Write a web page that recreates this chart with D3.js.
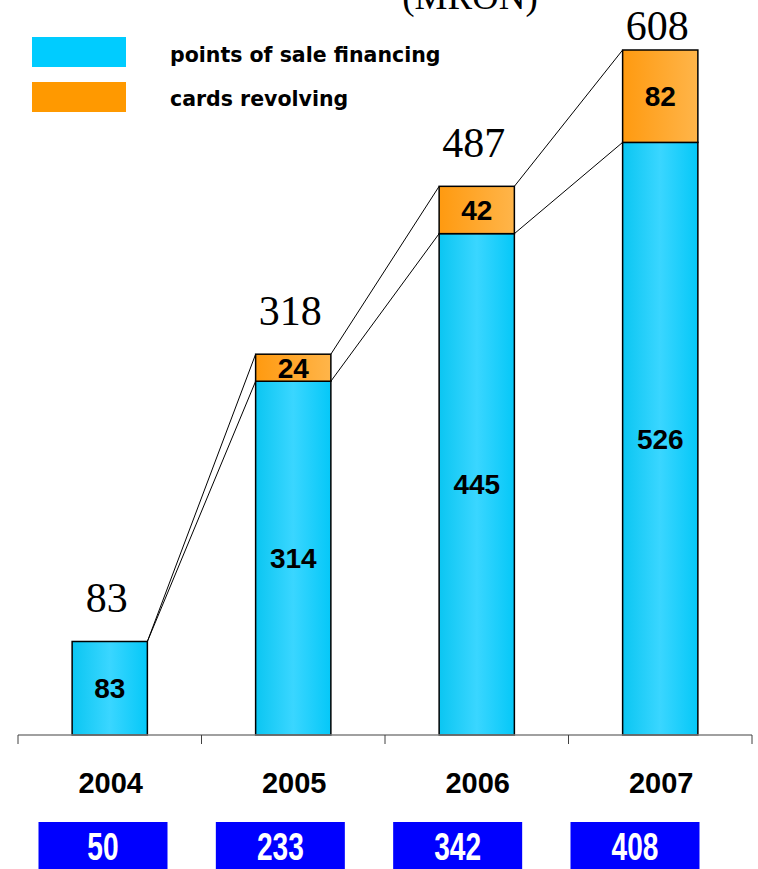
<!DOCTYPE html>
<html>
<head>
<meta charset="utf-8">
<script src="https://cdn.jsdelivr.net/npm/d3@7"></script>
<style>
  html, body { margin: 0; padding: 0; background: #fff; }
  svg { display: block; }
</style>
</head>
<body>
<script>
// Loan portfolio by year (MRON)
const years = ["2004", "2005", "2006", "2007"];
const posFinancing = [83, 314, 445, 526];
const cardsRevolving = [0, 24, 42, 82];
const totals = [83, 318, 487, 608];
const bottomValues = [50, 233, 342, 408];
const seriesNames = ["points of sale financing", "cards revolving"];
const seriesColors = ["#00CCFF", "#FF9900"];
const titleText = "(MRON)";

const W = 758, H = 869;
const svg = d3.select("body").append("svg").attr("width", W).attr("height", H);

const defs = svg.append("defs");
const gCyan = defs.append("linearGradient").attr("id", "gradCyan").attr("x1", 0).attr("x2", 1).attr("y1", 0).attr("y2", 0);
gCyan.append("stop").attr("offset", "0%").attr("stop-color", "#0BC6F2");
gCyan.append("stop").attr("offset", "50%").attr("stop-color", "#3AD6FF");
gCyan.append("stop").attr("offset", "100%").attr("stop-color", "#05C8F8");
const gOrange = defs.append("linearGradient").attr("id", "gradOrange").attr("x1", 0).attr("x2", 1).attr("y1", 0).attr("y2", 0);
gOrange.append("stop").attr("offset", "0%").attr("stop-color", "#FF9A10");
gOrange.append("stop").attr("offset", "100%").attr("stop-color", "#FFB54A");
const fills = ["url(#gradCyan)", "url(#gradOrange)"];

// Scales
const x = d3.scaleBand().domain(years).range([18, 752]).padding(0);
const barW = x.bandwidth() * 0.41;
const y = d3.scaleLinear().domain([0, 608]).range([735, 50]);
const boxX = d3.scalePoint().domain(years).range([103, 635]);

// Title (runs off the top edge)
svg.append("text")
  .attr("x", 470).attr("y", 9)
  .attr("text-anchor", "middle")
  .attr("font-family", "'Liberation Serif', 'Times New Roman', serif")
  .attr("font-size", 37)
  .text(titleText);

// Legend
const legendY = [37, 82];
const legendBaseline = [62, 106];
seriesNames.forEach((name, i) => {
  svg.append("rect")
    .attr("x", 32).attr("y", legendY[i])
    .attr("width", 94).attr("height", 30)
    .attr("fill", seriesColors[i]);
  svg.append("text")
    .attr("x", 170).attr("y", legendBaseline[i])
    .attr("font-family", "'DejaVu Sans', Verdana, sans-serif")
    .attr("font-weight", "bold")
    .attr("font-size", 20.5)
    .text(name);
});

// Stacked data
const rows = years.map((yr, i) => ({ year: yr, pos: posFinancing[i], cards: cardsRevolving[i] }));
const stack = d3.stack().keys(["pos", "cards"])(rows);

// Connector lines from each bar's top corners to the next bar
const connectors = svg.append("g").attr("stroke", "#000").attr("stroke-width", 1);
for (let i = 0; i < years.length - 1; i++) {
  const xr = x(years[i]) + x.bandwidth() / 2 + barW / 2;
  const xl = x(years[i + 1]) + x.bandwidth() / 2 - barW / 2;
  [1, 0].forEach(k => {
    connectors.append("line")
      .attr("x1", xr).attr("y1", y(stack[k][i][1]))
      .attr("x2", xl).attr("y2", y(stack[k][i + 1][1]));
  });
}

// Bars
stack.forEach((layer, k) => {
  svg.append("g").selectAll("rect")
    .data(layer.filter(d => d[1] - d[0] > 0))
    .join("rect")
    .attr("x", d => x(d.data.year) + x.bandwidth() / 2 - barW / 2)
    .attr("y", d => y(d[1]))
    .attr("width", barW)
    .attr("height", d => y(d[0]) - y(d[1]))
    .attr("fill", fills[k])
    .attr("stroke", "#000")
    .attr("stroke-width", 1.5);
});

// Segment value labels
stack.forEach((layer, k) => {
  svg.append("g").selectAll("text")
    .data(layer.filter(d => d[1] - d[0] > 0))
    .join("text")
    .attr("x", d => x(d.data.year) + x.bandwidth() / 2)
    .attr("y", d => (y(d[0]) + y(d[1])) / 2 + 10)
    .attr("text-anchor", "middle")
    .attr("font-family", "'Liberation Sans', Arial, sans-serif")
    .attr("font-weight", "bold")
    .attr("font-size", 28)
    .text(d => d[1] - d[0]);
});

// Totals above bars
svg.append("g").selectAll("text")
  .data(years)
  .join("text")
  .attr("x", (d) => x(d) + x.bandwidth() / 2 - 3)
  .attr("y", (d, i) => Math.max(40, y(stack[1][i][1]) - 29))
  .attr("text-anchor", "middle")
  .attr("font-family", "'Liberation Serif', 'Times New Roman', serif")
  .attr("font-size", 42)
  .text((d, i) => totals[i]);

// Category axis
const axis = svg.append("g").attr("transform", "translate(0,735)");
axis.append("line").attr("x1", 18).attr("x2", 752).attr("y1", 0).attr("y2", 0)
  .attr("stroke", "#808080").attr("stroke-width", 1.5);
const boundaries = years.map(d => x(d)).concat([x.range()[1]]);
axis.selectAll("line.tick")
  .data(boundaries)
  .join("line")
  .attr("class", "tick")
  .attr("x1", d => d).attr("x2", d => d)
  .attr("y1", 0).attr("y2", 9)
  .attr("stroke", "#404040").attr("stroke-width", 1);

svg.append("g").selectAll("text")
  .data(years)
  .join("text")
  .attr("x", d => x(d) + x.bandwidth() / 2 + 1)
  .attr("y", 793)
  .attr("text-anchor", "middle")
  .attr("font-family", "'Liberation Sans', Arial, sans-serif")
  .attr("font-weight", "bold")
  .attr("font-size", 29)
  .text(d => d);

// Blue value boxes along the bottom
const boxes = svg.append("g").selectAll("g")
  .data(years)
  .join("g")
  .attr("transform", d => `translate(${boxX(d)},0)`);
boxes.append("rect")
  .attr("x", -64.5).attr("y", 822)
  .attr("width", 129).attr("height", 60)
  .attr("fill", "#0000FF");
boxes.append("text")
  .attr("transform", "translate(0,860) scale(0.74,1)")
  .attr("text-anchor", "middle")
  .attr("font-family", "'Liberation Sans', Arial, sans-serif")
  .attr("font-weight", "bold")
  .attr("font-size", 38)
  .attr("fill", "#fff")
  .text((d, i) => bottomValues[i]);
</script>
</body>
</html>
